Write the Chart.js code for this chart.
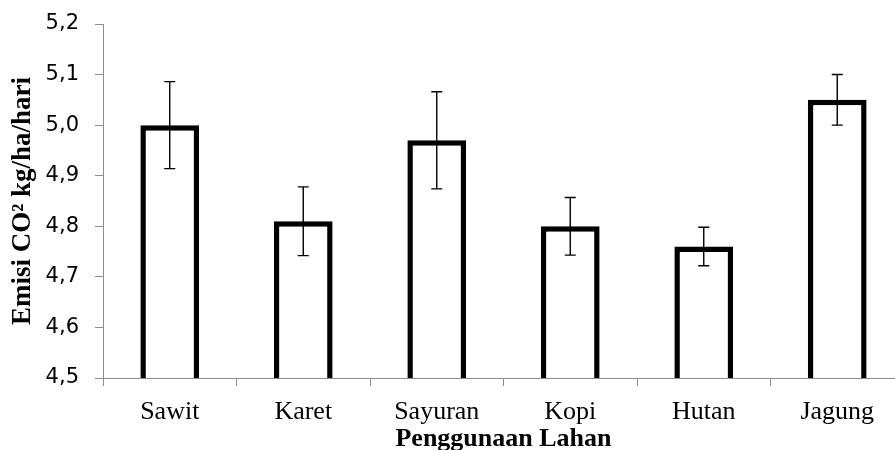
<!DOCTYPE html>
<html>
<head>
<meta charset="utf-8">
<script src="https://cdn.jsdelivr.net/npm/chart.js@4.4.0/dist/chart.umd.min.js"></script>
<style>
    html, body { margin: 0; padding: 0; background: #fff; overflow: hidden; }
    #wrap { width: 895px; height: 450px; overflow: hidden; }
</style>
</head>
<body>
<div id="wrap"><canvas id="emisiChart" width="910" height="450"></canvas></div>
<script>
// Data
const penggunaanLahan = ['Sawit', 'Karet', 'Sayuran', 'Kopi', 'Hutan', 'Jagung'];
const emisiCO2 = [5.00, 4.81, 4.97, 4.80, 4.76, 5.05];
const galat = [0.086, 0.068, 0.096, 0.057, 0.038, 0.050];
const yMin = 4.5;
const yMax = 5.2;
const yStep = 0.1;

const axisGray = '#8c8c8c';

// Error bars drawn through the chart's own scales
const errorBarPlugin = {
    id: 'errorBars',
    afterDatasetsDraw(chart) {
        const ctx = chart.ctx;
        const xScale = chart.scales.x;
        const yScale = chart.scales.y;
        ctx.save();
        ctx.strokeStyle = '#000';
        ctx.lineWidth = 1.4;
        emisiCO2.forEach((v, i) => {
            const x = xScale.getPixelForValue(i);
            const yTop = yScale.getPixelForValue(v + galat[i]);
            const yBot = yScale.getPixelForValue(v - galat[i]);
            const cap = 5.5;
            ctx.beginPath();
            ctx.moveTo(x, yTop);
            ctx.lineTo(x, yBot);
            ctx.moveTo(x - cap, yTop);
            ctx.lineTo(x + cap, yTop);
            ctx.moveTo(x - cap, yBot);
            ctx.lineTo(x + cap, yBot);
            ctx.stroke();
        });
        ctx.restore();
    }
};

const ctx = document.getElementById('emisiChart').getContext('2d');
new Chart(ctx, {
    type: 'bar',
    data: {
        labels: penggunaanLahan,
        datasets: [{
            data: emisiCO2,
            backgroundColor: '#ffffff',
            borderColor: '#000000',
            borderWidth: 5.5,
            borderSkipped: false,
            categoryPercentage: 1,
            barPercentage: 0.44
        }]
    },
    options: {
        responsive: false,
        animation: false,
        layout: {
            padding: { top: 24, right: 6, left: 0, bottom: 0 }
        },
        plugins: {
            legend: { display: false },
            tooltip: { enabled: false }
        },
        scales: {
            x: {
                grid: {
                    display: true,
                    offset: true,
                    drawOnChartArea: false,
                    drawTicks: true,
                    tickLength: 8,
                    color: axisGray
                },
                border: { color: axisGray, width: 1 },
                ticks: {
                    color: '#000',
                    padding: 11,
                    font: { family: '"Liberation Serif", "Times New Roman", serif', size: 26 }
                },
                title: {
                    display: true,
                    text: 'Penggunaan Lahan',
                    color: '#000',
                    padding: { top: 0, bottom: -2 },
                    font: { family: '"Liberation Serif", "Times New Roman", serif', size: 26, weight: 'bold', lineHeight: 1 }
                },
                afterFit(scale) { scale.height = 72; }
            },
            y: {
                min: yMin,
                max: yMax,
                grid: {
                    display: true,
                    drawOnChartArea: false,
                    drawTicks: true,
                    tickLength: 8,
                    color: axisGray
                },
                border: { color: axisGray, width: 1 },
                ticks: {
                    stepSize: yStep,
                    color: '#000',
                    padding: 16,
                    font: { family: '"DejaVu Sans", sans-serif', size: 21 },
                    callback: (value) => Number(value).toFixed(1).replace('.', ',')
                },
                title: {
                    display: true,
                    text: 'Emisi CO² kg/ha/hari',
                    color: '#000',
                    padding: { top: 10, bottom: 0 },
                    font: { family: '"Liberation Serif", "Times New Roman", serif', size: 27, weight: 'bold', lineHeight: 1 }
                },
                afterFit(scale) {
                    scale.width = 103;
                    scale.paddingTop = 0;
                    scale.paddingBottom = 0;
                }
            }
        }
    },
    plugins: [errorBarPlugin]
});
</script>
</body>
</html>
